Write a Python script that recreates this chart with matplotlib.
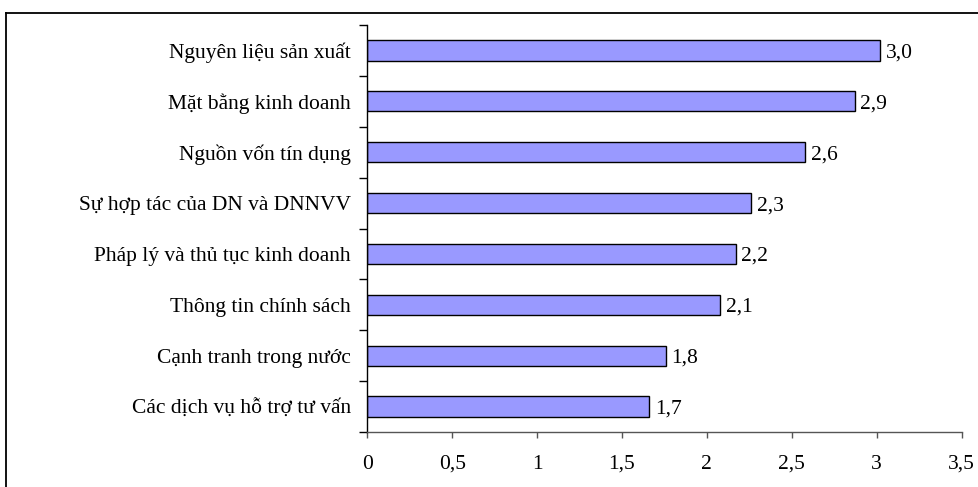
import matplotlib
matplotlib.use("Agg")
import matplotlib.pyplot as plt
from matplotlib.lines import Line2D
from matplotlib.ticker import FixedLocator

categories = ["Nguyên liệu sản xuất", "Mặt bằng kinh doanh", "Nguồn vốn tín dụng",
              "Sự hợp tác của DN và DNNVV", "Pháp lý và thủ tục kinh doanh",
              "Thông tin chính sách", "Cạnh tranh trong nước", "Các dịch vụ hỗ trợ tư vấn"]
values = [3.02, 2.87, 2.58, 2.26, 2.17, 2.08, 1.76, 1.66]
value_labels = ["3,0", "2,9", "2,6", "2,3", "2,2", "2,1", "1,8", "1,7"]
x_ticks = [0, 0.5, 1, 1.5, 2, 2.5, 3, 3.5]
x_tick_labels = ["0", "0,5", "1", "1,5", "2", "2,5", "3", "3,5"]

plt.rcParams['font.family'] = ['Liberation Serif', 'DejaVu Serif']
FS = 15.5

fig = plt.figure(figsize=(9.79, 4.87), dpi=100)
ax = fig.add_axes([367.3 / 979, 55 / 487, (961.5 - 367.3) / 979, (432 - 25) / 487])

n = len(categories)
ypos = list(range(n))
ax.barh(ypos, values, height=0.4, color='#9999FF', edgecolor='black', linewidth=1.0)
ax.set_ylim(n - 0.5, -0.5)
ax.set_xlim(0, 3.5)

for y, v, lab in zip(ypos, values, value_labels):
    ax.annotate(lab, xy=(v, y), xytext=(4, 0), textcoords='offset points',
                ha='left', va='center_baseline', fontsize=FS)

ax.set_yticks(ypos)
ax.set_yticklabels(categories, fontsize=FS)
ax.yaxis.set_minor_locator(FixedLocator([i - 0.5 for i in range(n + 1)]))
ax.tick_params(axis='y', which='major', length=0, pad=12)
ax.tick_params(axis='y', which='minor', length=6, width=1, color='black', direction='out')

ax.set_xticks(x_ticks)
ax.set_xticklabels(x_tick_labels, fontsize=FS)
ax.tick_params(axis='x', which='major', length=4.5, width=1, color='#555555', direction='out', pad=12)

for s in ['top', 'right']:
    ax.spines[s].set_visible(False)
ax.spines['left'].set_color('black')
ax.spines['left'].set_linewidth(1.0)
ax.spines['bottom'].set_color('#555555')
ax.spines['bottom'].set_linewidth(1.0)

# outer chart frame
fig.add_artist(Line2D([6 / 979, 1.0], [1 - 12.7 / 487, 1 - 12.7 / 487], color='black', linewidth=1.3, transform=fig.transFigure))
fig.add_artist(Line2D([6 / 979, 6 / 979], [0.0, 1 - 12.7 / 487], color='black', linewidth=1.3, transform=fig.transFigure))

fig.savefig("out.png", dpi=100)
